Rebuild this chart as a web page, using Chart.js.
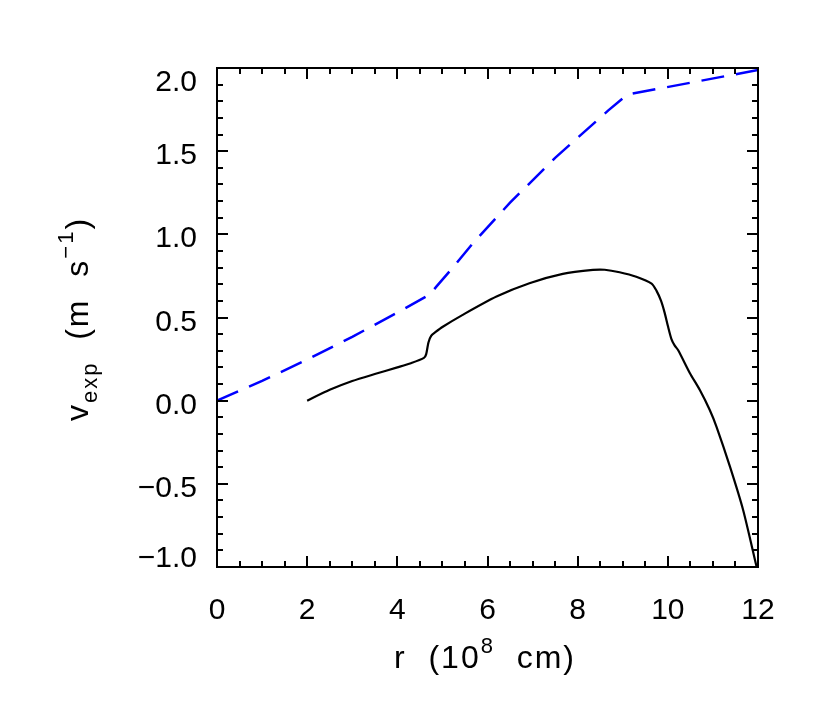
<!DOCTYPE html>
<html><head><meta charset="utf-8">
<script src="https://cdn.jsdelivr.net/npm/chart.js@4"></script>
<style>html,body{margin:0;padding:0;background:#fff}#wrap{width:822px;height:706px}</style>
</head><body><div id="wrap"><canvas id="c" width="822" height="706"></canvas></div>
<script>
// ---- data ----
const blueR = [0, 1, 2, 3, 4, 4.72, 4.87, 5.2, 5.68, 6.5, 7.5, 8.68, 9.1, 12];
const blueV = [0, 0.119, 0.247, 0.384, 0.529, 0.638, 0.687, 0.79, 0.948, 1.19, 1.46, 1.745, 1.84, 1.988];
const blackR = [2.0, 2.5, 3.0, 3.5, 4.0, 4.3, 4.59, 4.64, 4.69, 4.75, 4.85, 5.0, 5.45, 6.2, 6.93, 7.67, 8.34, 8.6, 8.93, 9.3, 9.64, 9.75, 9.85, 9.93, 10.0, 10.08, 10.15, 10.23, 10.49, 10.71, 10.93, 11.08, 11.38, 11.67, 11.97];
const blackV = [0.0, 0.065, 0.118, 0.16, 0.2, 0.225, 0.257, 0.28, 0.35, 0.39, 0.413, 0.443, 0.516, 0.626, 0.706, 0.762, 0.786, 0.787, 0.772, 0.745, 0.704, 0.66, 0.6, 0.528, 0.45, 0.37, 0.332, 0.303, 0.165, 0.064, -0.056, -0.157, -0.398, -0.657, -1.0];
const xTickValues = [0, 2, 4, 6, 8, 10, 12];
const yTickValues = [-1, -0.5, 0, 0.5, 1, 1.5, 2];
const yTickLabels = ['\u22121.0', '\u22120.5', '0.0', '0.5', '1.0', '1.5', '2.0'];
const xTitle = [{t: 'r  (10'}, {t: '8', sup: true}, {t: '  cm)'}];
const yTitle = [{t: 'v'}, {t: 'exp', sub: true}, {t: '  (m  s'}, {t: '\u22121', sup: true}, {t: ')'}];

const FONT = '"Liberation Sans", Arial, Helvetica, sans-serif';

function drawRich(ctx, pieces, cx, baseY, size, spacing) {
  const small = Math.round(size * 0.7);
  let total = 0;
  const items = pieces.map(p => {
    const fs = (p.sup || p.sub) ? small : size;
    ctx.font = fs + 'px ' + FONT;
    let w = 0;
    for (const ch of p.t) w += ctx.measureText(ch).width + spacing;
    total += w;
    return {p, fs, w};
  });
  total -= spacing;
  let x = cx - total / 2;
  for (const it of items) {
    ctx.font = it.fs + 'px ' + FONT;
    const dy = it.p.sup ? -15 : (it.p.sub ? 9 : 0);
    for (const ch of it.p.t) {
      ctx.fillText(ch, x, baseY + dy);
      x += ctx.measureText(ch).width + spacing;
    }
  }
}

const idlAxes = {
  id: 'idlAxes',
  afterDraw(chart) {
    const ctx = chart.ctx;
    const xs = chart.scales.x, ys = chart.scales.y;
    const a = chart.chartArea;
    ctx.save();
    ctx.strokeStyle = '#000';
    ctx.lineWidth = 2;
    ctx.lineCap = 'butt';
    ctx.strokeRect(a.left, a.top, a.right - a.left, a.bottom - a.top);
    ctx.beginPath();
    for (let i = 0; i <= 24; i++) {
      const v = i * 0.5;
      const px = Math.round(xs.getPixelForValue(v));
      const len = (i % 4 === 0) ? 11 : 6;
      ctx.moveTo(px, a.bottom); ctx.lineTo(px, a.bottom - len);
      ctx.moveTo(px, a.top); ctx.lineTo(px, a.top + len);
    }
    for (let i = 0; i <= 30; i++) {
      const v = -1 + i * 0.1;
      const py = Math.round(ys.getPixelForValue(v));
      const len = (i % 5 === 0) ? 11 : 6;
      ctx.moveTo(a.left, py); ctx.lineTo(a.left + len, py);
      ctx.moveTo(a.right, py); ctx.lineTo(a.right - len, py);
    }
    ctx.stroke();

    ctx.fillStyle = '#000';
    ctx.font = '30px ' + FONT;
    ctx.textAlign = 'right';
    ctx.textBaseline = 'alphabetic';
    yTickValues.forEach((v, i) => {
      const py = ys.getPixelForValue(v);
      let base = py + 13;
      if (i === yTickValues.length - 1) base = py + 23;
      if (i === 0) base = py;
      ctx.fillText(yTickLabels[i], a.left - 20, base);
    });

    ctx.textAlign = 'left';
    drawRich(ctx, xTitle, 484, 668, 32, 2);
    ctx.translate(88, 320);
    ctx.rotate(-Math.PI / 2);
    drawRich(ctx, yTitle, 0, 0, 32, 2);
    ctx.restore();
  }
};

const blueData = blueR.map((r, i) => ({x: r, y: blueV[i]}));
const blackData = blackR.map((r, i) => ({x: r, y: blackV[i]}));

new Chart(document.getElementById('c'), {
  type: 'line',
  data: {
    datasets: [
      {data: blackData, borderColor: '#000000', borderWidth: 2.2, pointRadius: 0, fill: false, tension: 0.25},
      {data: blueData, borderColor: '#0000ff', borderWidth: 2.5, pointRadius: 0, fill: false,
       borderDash: [23, 12], tension: 0}
    ]
  },
  options: {
    responsive: false,
    animation: false,
    devicePixelRatio: 1,
    layout: {padding: {left: 0, top: 68, right: 64, bottom: 0}},
    plugins: {legend: {display: false}, tooltip: {enabled: false}, title: {display: false}},
    scales: {
      x: {
        type: 'linear', min: 0, max: 12,
        afterFit: s => { s.height = 139; },
        afterBuildTicks: s => { s.ticks = xTickValues.map(v => ({value: v})); },
        grid: {display: false, drawTicks: false},
        border: {display: false},
        ticks: {color: '#000', font: {size: 30, family: FONT}, padding: 26, maxRotation: 0, autoSkip: false}
      },
      y: {
        type: 'linear', min: -1, max: 2,
        afterFit: s => { s.width = 217; },
        grid: {display: false, drawTicks: false},
        border: {display: false},
        ticks: {display: false}
      }
    }
  },
  plugins: [idlAxes]
});
</script>
</body></html>
